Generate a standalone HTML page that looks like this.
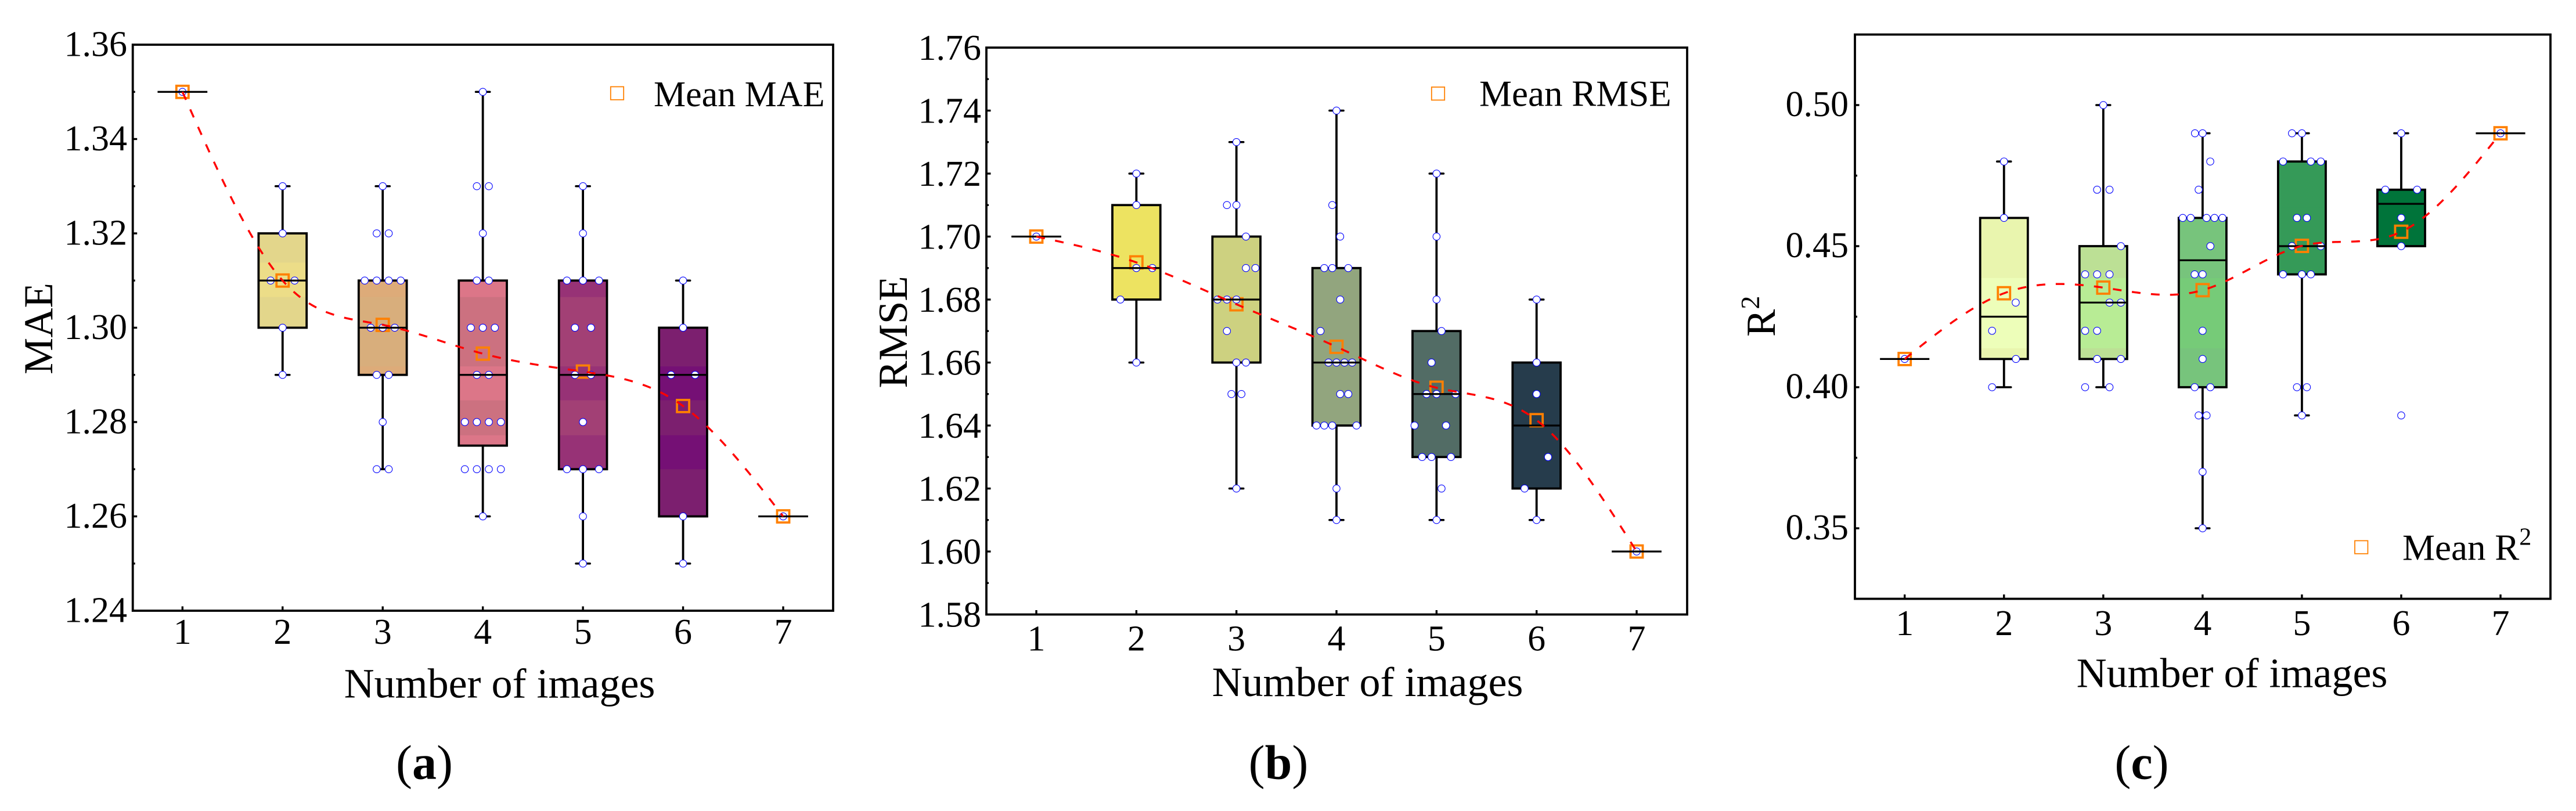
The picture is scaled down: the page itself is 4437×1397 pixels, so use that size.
<!DOCTYPE html>
<html lang="en">
<head>
<meta charset="utf-8">
<title>Box plots of MAE, RMSE and R2 by number of images</title>
<style>
html,body{margin:0;padding:0;background:#fff;}
svg{display:block;}
text{font-family:"Liberation Serif","Times New Roman",serif;fill:#000;}
</style>
</head>
<body>
<svg id="figure" xmlns="http://www.w3.org/2000/svg" width="4437" height="1397" viewBox="0 0 4437 1397">
  <rect x="0" y="0" width="4437" height="1397" fill="#fff"/>

  <g id="panel-mae"></g>
  <g id="panel-rmse"></g>
  <g id="panel-r2"></g>

  <text transform="translate(90,566) rotate(-90)" text-anchor="middle" font-size="71">MAE</text>
  <text transform="translate(1562,572) rotate(-90)" text-anchor="middle" font-size="71">RMSE</text>
  <text transform="translate(3057,580) rotate(-90)" font-size="71">R<tspan font-size="46" dy="-27">2</tspan></text>

  <text x="860.5" y="1201.7" text-anchor="middle" font-size="72">Number of images</text>
  <text x="2355.5" y="1199" text-anchor="middle" font-size="72">Number of images</text>
  <text x="3844.5" y="1183.6" text-anchor="middle" font-size="72">Number of images</text>

  <rect x="1051.8" y="149.4" width="22.4" height="22.4" fill="none" stroke="#ff8000" stroke-width="1.8"/>
  <text x="1126" y="183" font-size="62">Mean MAE</text>
  <rect x="2465.8" y="150" width="22.4" height="22.4" fill="none" stroke="#ff8000" stroke-width="1.8"/>
  <text x="2548" y="182.7" font-size="63">Mean RMSE</text>
  <rect x="4056" y="931.4" width="22.4" height="22.4" fill="none" stroke="#ff8000" stroke-width="1.8"/>
  <text x="4138" y="964.4" font-size="63">Mean R<tspan font-size="42" dy="-26">2</tspan></text>

  <text x="731" y="1341.7" text-anchor="middle" font-size="84">(<tspan font-weight="bold">a</tspan>)</text>
  <text x="2202" y="1341.7" text-anchor="middle" font-size="84">(<tspan font-weight="bold">b</tspan>)</text>
  <text x="3689" y="1341.7" text-anchor="middle" font-size="84">(<tspan font-weight="bold">c</tspan>)</text>
</svg>

<script>
const categories = [1, 2, 3, 4, 5, 6, 7];

/* ---------- MAE ---------- */
const maeMajorTicks = [1.24, 1.26, 1.28, 1.30, 1.32, 1.34, 1.36];
const maeTickLabels = ['1.24', '1.26', '1.28', '1.30', '1.32', '1.34', '1.36'];
const maeMinorTicks = [1.25, 1.27, 1.29, 1.31, 1.33, 1.35];
const maeLow = [1.35, 1.29, 1.27, 1.26, 1.25, 1.25, 1.26];
const maeQ1 = [1.35, 1.30, 1.29, 1.275, 1.27, 1.26, 1.26];
const maeMedian = [1.35, 1.31, 1.30, 1.29, 1.29, 1.29, 1.26];
const maeQ3 = [1.35, 1.32, 1.31, 1.31, 1.31, 1.30, 1.26];
const maeHigh = [1.35, 1.33, 1.33, 1.35, 1.33, 1.31, 1.26];
const maeMean = [1.35, 1.31, 1.3006, 1.2945, 1.2907, 1.2834, 1.26];
const maePointValues = [
  [1.35],
  [1.33, 1.32, 1.31, 1.31, 1.30, 1.29],
  [1.33, 1.32, 1.32, 1.31, 1.31, 1.31, 1.31, 1.30, 1.30, 1.30, 1.29, 1.29, 1.28, 1.27, 1.27],
  [1.35, 1.33, 1.33, 1.32, 1.31, 1.31, 1.30, 1.30, 1.30, 1.29, 1.29, 1.28, 1.28, 1.28, 1.28, 1.27, 1.27, 1.27, 1.27, 1.26],
  [1.33, 1.32, 1.31, 1.31, 1.31, 1.30, 1.30, 1.29, 1.29, 1.28, 1.27, 1.27, 1.27, 1.26, 1.25],
  [1.31, 1.30, 1.29, 1.29, 1.26, 1.25],
  [1.26]
];
const maePointOffsets = [
  [0],
  [0, 0, -0.12, 0.12, 0, 0],
  [0, -0.06, 0.06, -0.18, -0.06, 0.06, 0.18, -0.12, 0, 0.12, -0.06, 0.06, 0, -0.06, 0.06],
  [0, -0.06, 0.06, 0, -0.06, 0.06, -0.12, 0, 0.12, -0.06, 0.06, -0.18, -0.06, 0.06, 0.18, -0.18, -0.06, 0.06, 0.18, 0],
  [0, 0, -0.16, 0, 0.16, -0.08, 0.08, -0.08, 0.08, 0, -0.16, 0, 0.16, 0, 0],
  [0, 0, -0.12, 0.12, 0, 0],
  [0]
];
const maeFill = ['#ecdd88', '#ecdd88', '#ddab79', '#dc7688', '#973276', '#751075', '#751075'];
const maeBandFill = ['#e3d68b', '#e3d68b', '#d8ae7c', '#cc7180', '#a24075', '#7c1f6f', '#7c1f6f'];
const maeBands = [[1.40, 1.3138], [1.3065, 1.2918], [1.2846, 1.2772], [1.2700, 1.20]];

/* ---------- RMSE ---------- */
const rmseMajorTicks = [1.58, 1.60, 1.62, 1.64, 1.66, 1.68, 1.70, 1.72, 1.74, 1.76];
const rmseTickLabels = ['1.58', '1.60', '1.62', '1.64', '1.66', '1.68', '1.70', '1.72', '1.74', '1.76'];
const rmseMinorTicks = [1.59, 1.61, 1.63, 1.65, 1.67, 1.69, 1.71, 1.73, 1.75];
const rmseLow = [1.70, 1.66, 1.62, 1.61, 1.61, 1.61, 1.60];
const rmseQ1 = [1.70, 1.68, 1.66, 1.64, 1.63, 1.62, 1.60];
const rmseMedian = [1.70, 1.69, 1.68, 1.66, 1.65, 1.64, 1.60];
const rmseQ3 = [1.70, 1.71, 1.70, 1.69, 1.67, 1.66, 1.60];
const rmseHigh = [1.70, 1.72, 1.73, 1.74, 1.72, 1.68, 1.60];
const rmseMean = [1.70, 1.6918, 1.6785, 1.665, 1.652, 1.6417, 1.60];
const rmsePointValues = [
  [1.70],
  [1.72, 1.71, 1.69, 1.69, 1.68, 1.66],
  [1.73, 1.71, 1.71, 1.70, 1.69, 1.69, 1.68, 1.68, 1.68, 1.67, 1.66, 1.66, 1.65, 1.65, 1.62],
  [1.74, 1.71, 1.70, 1.69, 1.69, 1.69, 1.68, 1.67, 1.66, 1.66, 1.66, 1.66, 1.65, 1.65, 1.64, 1.64, 1.64, 1.64, 1.62, 1.61],
  [1.72, 1.70, 1.68, 1.67, 1.66, 1.65, 1.65, 1.65, 1.64, 1.64, 1.63, 1.63, 1.63, 1.62, 1.61],
  [1.68, 1.66, 1.65, 1.63, 1.62, 1.61],
  [1.60]
];
const rmsePointOffsets = [
  [0],
  [0, 0, 0, 0.16, -0.16, 0],
  [0, -0.095, 0, 0.095, 0.095, 0.19, -0.19, -0.095, 0, -0.095, 0, 0.095, -0.05, 0.05, 0],
  [0, -0.042, 0.037, -0.122, -0.042, 0.118, 0.037, -0.16, -0.08, 0, 0.08, 0.157, 0.037, 0.118, -0.2, -0.122, -0.042, 0.2, 0, 0],
  [0, 0, 0, 0.05, -0.05, -0.1, 0, 0.19, -0.22, 0.095, -0.144, -0.05, 0.144, 0.05, 0],
  [0, 0, 0, 0.115, -0.12, 0],
  [0]
];
const rmseFill = ['#ede361', '#ede361', '#cdd180', '#92a57e', '#526c65', '#263c4c', '#263c4c'];
const rmseBandFill = rmseFill;
const rmseBands = [];

/* ---------- R2 ---------- */
const r2MajorTicks = [0.35, 0.40, 0.45, 0.50];
const r2TickLabels = ['0.35', '0.40', '0.45', '0.50'];
const r2MinorTicks = [0.375, 0.425, 0.475];
const r2Low = [0.41, 0.40, 0.40, 0.35, 0.39, 0.45, 0.49];
const r2Q1 = [0.41, 0.41, 0.41, 0.40, 0.44, 0.45, 0.49];
const r2Median = [0.41, 0.425, 0.43, 0.445, 0.45, 0.465, 0.49];
const r2Q3 = [0.41, 0.46, 0.45, 0.46, 0.48, 0.47, 0.49];
const r2High = [0.41, 0.48, 0.50, 0.49, 0.49, 0.49, 0.49];
const r2Mean = [0.41, 0.4333, 0.4353, 0.4344, 0.4501, 0.4551, 0.49];
const r2PointValues = [
  [0.41],
  [0.48, 0.46, 0.43, 0.42, 0.41, 0.40],
  [0.50, 0.47, 0.47, 0.45, 0.44, 0.44, 0.44, 0.43, 0.43, 0.42, 0.42, 0.41, 0.41, 0.40, 0.40],
  [0.49, 0.49, 0.48, 0.47, 0.46, 0.46, 0.46, 0.46, 0.46, 0.45, 0.44, 0.44, 0.42, 0.41, 0.40, 0.40, 0.39, 0.39, 0.37, 0.35],
  [0.49, 0.49, 0.48, 0.48, 0.48, 0.46, 0.46, 0.45, 0.45, 0.44, 0.44, 0.44, 0.40, 0.40, 0.39],
  [0.49, 0.47, 0.47, 0.46, 0.45, 0.39],
  [0.49]
];
const r2PointOffsets = [
  [0],
  [0, 0, 0.118, -0.12, 0.12, -0.12],
  [0, -0.0625, 0.0625, 0.177, -0.183, -0.0625, 0.0625, 0.0625, 0.177, -0.183, -0.0625, -0.0625, 0.177, -0.183, 0.0625],
  [-0.077, 0, 0.077, -0.04, -0.2, -0.12, 0.04, 0.12, 0.2, 0.078, -0.08, 0, 0, 0, -0.08, 0.078, -0.04, 0.04, 0, 0],
  [-0.1, 0, -0.19, 0.09, 0.19, -0.05, 0.05, -0.1, 0.19, -0.19, 0, 0.09, -0.05, 0.05, 0],
  [0, -0.16, 0.16, 0, 0, 0],
  [0]
];
const r2Fill = ['#edfeb9', '#edfeb9', '#b8ec95', '#76cb78', '#38a05a', '#0d6f3e', '#0d6f3e'];
const r2BandFill = ['#e9f5ae', '#e9f5ae', '#bce095', '#77c47c', '#359a58', '#00743a', '#00743a'];
const r2Bands = [[0.60, 0.4636], [0.4636, 0.4387], [0.4138, 0.30]];

/* ---------- layout (pixels) ---------- */
const layouts = {
  mae: {left: 228.7, right: 1435, top: 77, bottom: 1052, x1: 314.3, x7: 1349, yMin: 1.24, yMax: 1.36, labelX: 219, labelDy: 19.5, xLabelDy: 57},
  rmse: {left: 1699, right: 2906, top: 82, bottom: 1058.5, x1: 1785, x7: 2819, yMin: 1.58, yMax: 1.76, labelX: 1690, labelDy: 21, xLabelDy: 62},
  r2: {left: 3195, right: 4393, top: 59.5, bottom: 1031.5, x1: 3280.7, x7: 4307, yMin: 0.325, yMax: 0.525, labelX: 3184, labelDy: 19, xLabelDy: 62.5}
};

const SVG_NS = 'http://www.w3.org/2000/svg';

function make(tag, attrs, parent) {
  const node = document.createElementNS(SVG_NS, tag);
  for (const key in attrs) {
    node.setAttribute(key, attrs[key]);
  }
  parent.appendChild(node);
  return node;
}

function naturalSpline(xs, ys) {
  const n = xs.length;
  const a = new Array(n).fill(0);
  const b = new Array(n).fill(1);
  const c = new Array(n).fill(0);
  const d = new Array(n).fill(0);
  for (let i = 1; i < n - 1; i++) {
    a[i] = xs[i] - xs[i - 1];
    b[i] = 2 * (xs[i + 1] - xs[i - 1]);
    c[i] = xs[i + 1] - xs[i];
    d[i] = 6 * ((ys[i + 1] - ys[i]) / (xs[i + 1] - xs[i]) - (ys[i] - ys[i - 1]) / (xs[i] - xs[i - 1]));
  }
  for (let i = 1; i < n; i++) {
    const m = a[i] / b[i - 1];
    b[i] -= m * c[i - 1];
    d[i] -= m * d[i - 1];
  }
  const second = new Array(n).fill(0);
  second[n - 1] = d[n - 1] / b[n - 1];
  for (let i = n - 2; i >= 0; i--) {
    second[i] = (d[i] - c[i] * second[i + 1]) / b[i];
  }
  return function (x) {
    let i = 0;
    while (i < n - 2 && x > xs[i + 1]) i++;
    const h = xs[i + 1] - xs[i];
    const p = (xs[i + 1] - x) / h;
    const q = (x - xs[i]) / h;
    return p * ys[i] + q * ys[i + 1] + ((p * p * p - p) * second[i] + (q * q * q - q) * second[i + 1]) * h * h / 6;
  };
}

function drawPanel(key, cfg, s) {
  const root = document.getElementById('panel-' + key);
  const xScale = function (c) { return cfg.x1 + (c - 1) * (cfg.x7 - cfg.x1) / 6; };
  const yScale = function (v) { return cfg.bottom - (v - cfg.yMin) * (cfg.bottom - cfg.top) / (cfg.yMax - cfg.yMin); };
  const catStep = (cfg.x7 - cfg.x1) / 6;
  const boxHalf = 0.24 * catStep;
  const capHalf = 0.07 * catStep;
  const black = '#000';

  const frame = make('rect', {x: cfg.left, y: cfg.top, width: cfg.right - cfg.left, height: cfg.bottom - cfg.top, fill: 'none', stroke: black, 'stroke-width': 3.8}, root);
  
  

  s.major.forEach(function (v, i) {
    if (v > cfg.yMin && v < cfg.yMax) {
      const tick = make('line', {x1: cfg.left, x2: cfg.left + 7.5, y1: yScale(v), y2: yScale(v), stroke: black, 'stroke-width': 3.4}, root);
      
      
    }
    const label = make('text', {x: cfg.labelX, y: yScale(v) + cfg.labelDy, 'text-anchor': 'end', 'font-size': 62}, root);
    label.textContent = s.labels[i];
    
    
  });
  s.minor.forEach(function (v) {
    const tick = make('line', {x1: cfg.left, x2: cfg.left + 4, y1: yScale(v), y2: yScale(v), stroke: black, 'stroke-width': 3.4}, root);
    
    
  });
  categories.forEach(function (c) {
    const tick = make('line', {x1: xScale(c), x2: xScale(c), y1: cfg.bottom, y2: cfg.bottom - 7.5, stroke: black, 'stroke-width': 3.4}, root);
    
    
    const label = make('text', {x: xScale(c), y: cfg.bottom + cfg.xLabelDy, 'text-anchor': 'middle', 'font-size': 62}, root);
    label.textContent = String(c);
    
    
  });

  categories.forEach(function (c, i) {
    const cx = xScale(c);
    const hasBox = s.q3[i] > s.q1[i];
    if (s.high[i] > s.q3[i]) {
      const up = make('line', {x1: cx, x2: cx, y1: yScale(s.q3[i]), y2: yScale(s.high[i]), stroke: black, 'stroke-width': 3.8}, root);
      
      
      const cap = make('line', {x1: cx - capHalf, x2: cx + capHalf, y1: yScale(s.high[i]), y2: yScale(s.high[i]), stroke: black, 'stroke-width': 3.6, 'stroke-linecap': 'round'}, root);
      
      
    }
    if (s.low[i] < s.q1[i]) {
      const down = make('line', {x1: cx, x2: cx, y1: yScale(s.q1[i]), y2: yScale(s.low[i]), stroke: black, 'stroke-width': 3.8}, root);
      
      
      const cap = make('line', {x1: cx - capHalf, x2: cx + capHalf, y1: yScale(s.low[i]), y2: yScale(s.low[i]), stroke: black, 'stroke-width': 3.6, 'stroke-linecap': 'round'}, root);
      
      
    }
    if (hasBox) {
      const body = make('rect', {x: cx - boxHalf, y: yScale(s.q3[i]), width: 2 * boxHalf, height: yScale(s.q1[i]) - yScale(s.q3[i]), fill: s.fill[i]}, root);
      
      
      s.bands.forEach(function (band) {
        const hi = Math.min(band[0], s.q3[i]);
        const lo = Math.max(band[1], s.q1[i]);
        if (hi > lo) {
          const stripe = make('rect', {x: cx - boxHalf, y: yScale(hi), width: 2 * boxHalf, height: yScale(lo) - yScale(hi), fill: s.bandFill[i]}, root);
          
          
        }
      });
      const outline = make('rect', {x: cx - boxHalf, y: yScale(s.q3[i]), width: 2 * boxHalf, height: yScale(s.q1[i]) - yScale(s.q3[i]), fill: 'none', stroke: black, 'stroke-width': 3.8}, root);
      
      
    }
  });

  categories.forEach(function (c, i) {
    const size = 21;
    const marker = make('rect', {x: xScale(c) - size / 2, y: yScale(s.mean[i]) - size / 2, width: size, height: size, fill: 'none', stroke: '#ff8000', 'stroke-width': 3.8}, root);
    
    
  });

  categories.forEach(function (c, i) {
    s.pointValues[i].forEach(function (v, j) {
      const dot = make('circle', {cx: xScale(c + s.pointOffsets[i][j]), cy: yScale(v), r: 6.2, fill: '#fff', stroke: '#0000ff', 'stroke-width': 1.1}, root);
      
      
    });
  });

  categories.forEach(function (c, i) {
    const cx = xScale(c);
    const half = boxHalf + 1.5;
    const med = make('line', {x1: cx - half, x2: cx + half, y1: yScale(s.median[i]), y2: yScale(s.median[i]), stroke: black, 'stroke-width': 3.2}, root);
    
    
  });

  const curve = naturalSpline(categories, s.mean);
  let d = '';
  const lastCat = categories[categories.length - 1];
  for (let t = categories[0]; t <= lastCat + 1e-9; t += 0.02) {
    d += (d ? 'L' : 'M') + xScale(t).toFixed(2) + ' ' + yScale(curve(t)).toFixed(2);
  }
  const trend = make('path', {d: d, fill: 'none', stroke: '#ff0000', 'stroke-width': 3.4, 'stroke-dasharray': '15 18'}, root);
  
  
}

drawPanel('mae', layouts.mae, {
  major: maeMajorTicks, labels: maeTickLabels, minor: maeMinorTicks,
  low: maeLow, q1: maeQ1, median: maeMedian, q3: maeQ3, high: maeHigh, mean: maeMean,
  pointValues: maePointValues, pointOffsets: maePointOffsets,
  fill: maeFill, bandFill: maeBandFill, bands: maeBands
});
drawPanel('rmse', layouts.rmse, {
  major: rmseMajorTicks, labels: rmseTickLabels, minor: rmseMinorTicks,
  low: rmseLow, q1: rmseQ1, median: rmseMedian, q3: rmseQ3, high: rmseHigh, mean: rmseMean,
  pointValues: rmsePointValues, pointOffsets: rmsePointOffsets,
  fill: rmseFill, bandFill: rmseBandFill, bands: rmseBands
});
drawPanel('r2', layouts.r2, {
  major: r2MajorTicks, labels: r2TickLabels, minor: r2MinorTicks,
  low: r2Low, q1: r2Q1, median: r2Median, q3: r2Q3, high: r2High, mean: r2Mean,
  pointValues: r2PointValues, pointOffsets: r2PointOffsets,
  fill: r2Fill, bandFill: r2BandFill, bands: r2Bands
});
</script>
</body>
</html>
